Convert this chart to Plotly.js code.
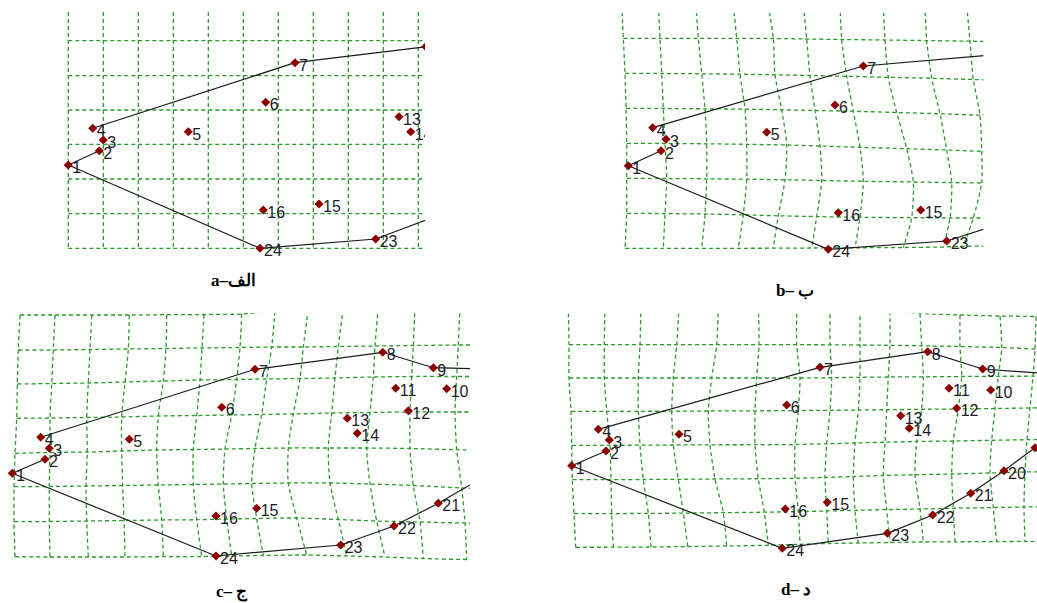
<!DOCTYPE html>
<html>
<head>
<meta charset="utf-8">
<script src="https://cdn.plot.ly/plotly-3.0.1.min.js"></script>
<style>html,body{margin:0;padding:0;background:#fff;}#chart{width:1037px;height:603px;}</style>
</head>
<body>
<div id="chart"></div>
<script>
// ---------------- DATA (page-pixel units) ----------------
// Panel a (regular grid)
const aGridCols = [68.3, 103.3, 138.3, 173.3, 208.3, 243.3, 278.3, 313.3, 348.3, 383.3, 418.3, 453.3];
const aGridRows = [5, 40.7, 75.7, 110, 144.3, 179, 213.7, 248.3];
const aIds = [1, 2, 3, 4, 5, 6, 7, 8, 13, 14, 15, 16, 22, 23, 24];
const aX = [68.3, 99.3, 103.3, 92.7, 188.3, 265.7, 295, 425.7, 399, 410.7, 319, 263.3, 445, 375.7, 260];
const aY = [165, 150.7, 140, 128.3, 131.7, 102.3, 62.7, 46.7, 116.7, 131.7, 204, 210, 212.7, 239, 248.3];

// Panel b (deformed grid): column x per row, row y per column
const bColX = [
  [621.7, 623.3, 625, 626, 626.7, 626.7, 626.7, 625],
  [658.3, 660, 661.7, 663.3, 665, 666.7, 665, 663.3],
  [696, 698.3, 701.7, 705, 706.7, 706.7, 705, 701.7],
  [733.3, 736.7, 740, 745, 746.7, 746.7, 743.3, 738.3],
  [768.3, 773.3, 775, 781.7, 786.7, 785, 778.3, 773.3],
  [803.3, 806.7, 810, 815, 820, 821.7, 816.7, 811.7],
  [840, 841.7, 846.7, 853.3, 860, 863.3, 860, 855],
  [883.3, 885, 888.3, 896.7, 906.7, 913.3, 911.7, 903.3],
  [925, 926.7, 931.7, 940, 946.7, 951.7, 950, 943.3],
  [966.7, 970, 973.3, 980, 981.7, 981.7, 973.3, 963.3],
  [1008, 1010, 1013, 1018, 1020, 1020, 1012, 1003]
];
const bRowY = [
  [5, 5, 5, 5, 5, 5, 5, 5, 5, 5, 5],
  [38.3, 38.3, 38.3, 38.3, 38.5, 39, 39.5, 40, 40.6, 41.2, 41.6],
  [73.3, 73.5, 73.8, 74.2, 74.8, 75.5, 76.3, 77.3, 78.3, 79.5, 80.5],
  [108.3, 108.5, 108.8, 109.2, 109.8, 110.5, 111.3, 112.5, 113.8, 115.2, 116],
  [143.3, 143.5, 143.8, 144.3, 145, 146, 147.3, 148.7, 150, 151.3, 152],
  [178.3, 178.5, 178.8, 179.2, 179.8, 180.5, 181.3, 182, 182.6, 183, 183.3],
  [213.3, 213.6, 214, 214.8, 215.8, 216.6, 217.3, 217.7, 218, 218, 218],
  [248.3, 248.3, 248.3, 248.3, 248.2, 248, 247.8, 247.5, 247, 246.3, 246]
];
const bIds = [1, 2, 3, 4, 5, 6, 7, 8, 15, 16, 22, 23, 24];
const bX = [628.3, 661, 666, 652.7, 766.7, 835, 863.3, 1000, 920.7, 838.3, 1010, 946.7, 828.3];
const bY = [165.7, 150.7, 139.3, 127.7, 132.3, 105, 66, 54.3, 210, 212.7, 220.8, 241, 249.3];

// Panel c
const cColX = [
  [20, 18.3, 17.3, 16.7, 15, 14, 14, 15],
  [55, 53.3, 51.7, 50, 50, 49.3, 49.3, 50],
  [91.7, 90, 88.3, 86.7, 87.3, 86, 86.7, 88.3],
  [129.3, 128.3, 125, 121.7, 121.7, 122.7, 124, 125],
  [166.7, 166, 163.3, 158.3, 156.7, 158.3, 161.7, 163.3],
  [204, 202, 200, 196.7, 193.3, 193.3, 196.7, 201.7],
  [241.7, 240, 236.7, 231.7, 225, 223.3, 226.7, 231.7],
  [275, 271.7, 266.7, 261.7, 255, 251.7, 256.7, 263.3],
  [308.3, 303.3, 300, 293.3, 288.3, 288.3, 296.7, 306.7],
  [343.3, 338.3, 335, 331.7, 328.3, 330, 338.3, 346.7],
  [378.3, 375, 373.3, 370, 366.7, 370, 376.7, 385],
  [415, 413.3, 411.7, 410, 410, 413.3, 420, 423.3],
  [460, 458.3, 456.7, 455, 456.7, 461.7, 465, 466.7],
  [500, 498, 496, 494, 496, 500, 503, 505]
];
const cRowY = [
  [315, 315, 315, 315, 314.7, 314.5, 314, 311, 309, 308, 307, 306, 306, 306],
  [350, 350, 349.5, 349, 348.5, 348, 347.5, 347, 347, 346.5, 346, 345.5, 345, 345],
  [384, 383.5, 383, 382, 381, 380, 379.5, 379, 378.5, 378, 377, 376.5, 376.5, 376.5],
  [418.3, 418, 417.5, 417, 416, 415.5, 415, 414.5, 414, 413, 412.5, 412, 412, 412],
  [453.3, 452.5, 452, 451, 450, 449.5, 449, 448.5, 448, 448, 448, 448.5, 449.7, 450.5],
  [486.7, 486.5, 486, 485.5, 485, 484.5, 484, 483.5, 483, 483, 484, 485.5, 488, 490],
  [521.7, 521.5, 521, 520.5, 520, 519.7, 519, 518.5, 518, 519.5, 521, 522, 523, 523],
  [556.7, 557, 557, 557, 556.7, 556.5, 556, 555.5, 555, 556, 557, 558.5, 559.5, 560]
];
const cIds = [1, 2, 3, 4, 5, 6, 7, 8, 9, 10, 11, 12, 13, 14, 15, 16, 20, 21, 22, 23, 24, 17];
const cX = [12.3, 45, 49.3, 40.7, 129.3, 221.7, 255, 382.7, 433.3, 446.7, 395.7, 408.3, 347.3, 357.3, 256.7, 216, 480, 438.3, 394, 340.7, 216, 500];
const cY = [473.3, 459.3, 448.3, 437.3, 439.3, 407.3, 369.3, 352.3, 367.7, 388.7, 388.3, 410.7, 418.3, 433.3, 508.3, 516, 479, 503.3, 526, 545, 556, 369.5];

// Panel d
const dColX = [
  [568.3, 569, 569, 571, 571.7, 572.3, 574, 575.7],
  [605, 604.3, 604.3, 606.7, 610, 611, 611.7, 613.3],
  [641, 640, 638.3, 638.3, 640, 643.3, 648.3, 651],
  [679, 676.7, 673.3, 671.7, 673.3, 678.3, 683.3, 687.7],
  [718.3, 716.7, 711.7, 708.3, 710, 715, 723.3, 726.7],
  [758.3, 759, 756.7, 755, 755, 758.3, 764.3, 768.3],
  [796.7, 796.7, 800, 798.3, 795, 795, 798.3, 800],
  [830, 830, 831.7, 830, 826.7, 825, 826.7, 828.3],
  [860, 860, 860, 858.3, 855, 853.3, 855, 858.3],
  [890, 890, 888.3, 886.7, 885, 883.3, 886.7, 890],
  [920, 921.7, 923.3, 921.7, 916.7, 915, 920, 923.3],
  [960, 960, 961.7, 958.3, 953.3, 951.7, 953.3, 955],
  [1000, 1001.7, 998.3, 995, 991.7, 990, 993.3, 996.7],
  [1036, 1035, 1033, 1030, 1027, 1025, 1024, 1025],
  [1075, 1074, 1072, 1069, 1066, 1064, 1063, 1064]
];
const dRowY = [
  [306, 306, 306, 306, 306, 306, 306.5, 307, 309, 311, 313.5, 315, 316, 316.5, 317],
  [344.7, 344.7, 344.7, 344.7, 344.7, 344.7, 344.7, 344.8, 345, 345.3, 345.8, 346.5, 347.5, 349, 350],
  [378, 378, 378, 378, 378, 378, 378, 377.7, 377.3, 377, 376.8, 376.5, 376.3, 376.2, 376],
  [411.3, 411.3, 411.3, 411.2, 411, 410.8, 410.6, 410.3, 410, 409.7, 409.3, 409, 408.5, 408, 407.7],
  [445.3, 445.3, 445.2, 445, 444.8, 444.7, 444.5, 443.8, 443, 442.2, 441.5, 441, 440.3, 439.7, 439.3],
  [479.7, 479.7, 479.5, 479.3, 479, 478.7, 478.3, 477.5, 476.5, 475.5, 474.7, 474, 473, 472, 471.5],
  [513.7, 513.6, 513.4, 513.1, 512.7, 512.2, 511.6, 511, 510.3, 509.6, 509, 508.3, 507.6, 507, 506.5],
  [547.3, 547.2, 547, 546.5, 546, 545.3, 544.3, 543.5, 543, 542.5, 542, 541.8, 541.6, 541.4, 541.2]
];
const dIds = [1, 2, 3, 4, 5, 6, 7, 8, 9, 10, 11, 12, 13, 14, 15, 16, 19, 20, 21, 22, 23, 24, 17];
const dX = [571.7, 606, 609.3, 598.3, 679, 786.7, 820, 927.7, 982.7, 990.7, 949, 956.7, 900.7, 909.3, 827.3, 785.3, 1035, 1004, 970.7, 932.7, 887.3, 782.3, 1065];
const dY = [465.7, 451, 440, 429.3, 434.3, 405, 367.3, 351.7, 369, 390, 388.3, 408.3, 415.7, 428.3, 502.3, 509, 447.7, 470.7, 493.3, 515, 533.3, 548.3, 375];

// Outline links (landmark numbers)
const aLinks = [[1, 2], [4, 7, 8], [1, 24, 23, 22]];
const bLinks = [[1, 2], [4, 7, 8], [1, 24, 23, 22]];
const cLinks = [[1, 2], [4, 7, 8, 9, 17], [1, 24, 23, 22, 21, 20]];
const dLinks = [[1, 2], [4, 7, 8, 9, 17], [1, 24, 23, 22, 21, 20, 19]];

const captions = ['a\u2013\u0627\u0644\u0641', 'b\u2013 \u0628', 'c\u2013 \u062c', 'd\u2013 \u062f'];

// ---------------- LAYOUT / STYLE ----------------
const W = 1037, H = 603;
const frames = [
  {L: 58, R: 425, T: 11.7, B: 260, cap: [233, 280]},
  {L: 612, R: 983.3, T: 13, B: 260, cap: [795, 290]},
  {L: 4, R: 470, T: 313, B: 568, cap: [232, 592]},
  {L: 562, R: 1037, T: 313.5, B: 562, cap: [796, 589]}
];
const GRID_COLOR = '#2b9a2b';
const MARK_COLOR = '#8b0000';
const LINE_COLOR = '#1a1a1a';
const LABEL_DX = 4, LABEL_DY = 4;   // label offset from its landmark, in pixels

const aColX = aGridCols.map(x => aGridRows.map(() => x));
const aRowY = aGridRows.map(y => aGridCols.map(() => y));

const panels = [
  {colX: aColX, rowY: aRowY, ids: aIds, x: aX, y: aY, links: aLinks},
  {colX: bColX, rowY: bRowY, ids: bIds, x: bX, y: bY, links: bLinks},
  {colX: cColX, rowY: cRowY, ids: cIds, x: cX, y: cY, links: cLinks},
  {colX: dColX, rowY: dRowY, ids: dIds, x: dX, y: dY, links: dLinks}
];

const traces = [];
const layout = {
  width: W, height: H,
  margin: {l: 0, r: 0, t: 0, b: 0, pad: 0},
  paper_bgcolor: '#fff', plot_bgcolor: 'rgba(0,0,0,0)',
  showlegend: false, hovermode: false,
  annotations: []
};

panels.forEach((p, i) => {
  const n = i === 0 ? '' : String(i + 1);
  const xa = 'x' + n, ya = 'y' + n;
  const f = frames[i];
  layout['xaxis' + n] = {domain: [f.L / W, f.R / W], range: [f.L, f.R], visible: false, fixedrange: true, anchor: ya};
  layout['yaxis' + n] = {domain: [1 - f.B / H, 1 - f.T / H], range: [f.B, f.T], visible: false, fixedrange: true, anchor: xa};

  // grid
  const gx = [], gy = [];
  const nc = p.colX.length, nr = p.rowY.length;
  for (let c = 0; c < nc; c++) {
    for (let r = 0; r < nr; r++) { gx.push(p.colX[c][r]); gy.push(p.rowY[r][c]); }
    gx.push(null); gy.push(null);
  }
  for (let r = 0; r < nr; r++) {
    for (let c = 0; c < nc; c++) { gx.push(p.colX[c][r]); gy.push(p.rowY[r][c]); }
    gx.push(null); gy.push(null);
  }
  traces.push({type: 'scatter', mode: 'lines', x: gx, y: gy, xaxis: xa, yaxis: ya,
    line: {color: GRID_COLOR, width: 1.3, dash: '4px,3px', shape: i === 0 ? 'linear' : 'spline', smoothing: 0.7},
    hoverinfo: 'skip', connectgaps: false});

  // outline
  const ox = [], oy = [];
  p.links.forEach(seq => {
    seq.forEach(id => { const k = p.ids.indexOf(id); ox.push(p.x[k]); oy.push(p.y[k]); });
    ox.push(null); oy.push(null);
  });
  traces.push({type: 'scatter', mode: 'lines', x: ox, y: oy, xaxis: xa, yaxis: ya,
    line: {color: LINE_COLOR, width: 1.2}, hoverinfo: 'skip', connectgaps: false});

  // landmark labels (slightly right of and below each landmark)
  traces.push({type: 'scatter', mode: 'text', x: p.x.map(v => v + LABEL_DX), y: p.y.map(v => v + LABEL_DY),
    xaxis: xa, yaxis: ya, text: p.ids.map(String), textposition: 'middle right',
    textfont: {family: 'Liberation Sans, Arial, sans-serif', size: 16, color: '#1c1c28'},
    cliponaxis: true, hoverinfo: 'skip'});

  // landmarks
  traces.push({type: 'scatter', mode: 'markers', x: p.x, y: p.y, xaxis: xa, yaxis: ya,
    marker: {symbol: 'diamond', size: 7, color: MARK_COLOR, line: {width: 0}},
    cliponaxis: true, hoverinfo: 'skip'});

  layout.annotations.push({xref: 'paper', yref: 'paper', x: f.cap[0] / W, y: 1 - f.cap[1] / H,
    xanchor: 'center', yanchor: 'middle', showarrow: false,
    text: '<b>' + captions[i] + '</b>',
    font: {family: 'Liberation Serif, DejaVu Serif, serif', size: 17, color: '#000'}});
});

Plotly.newPlot('chart', traces, layout, {staticPlot: true, displayModeBar: false});
</script>
</body>
</html>
